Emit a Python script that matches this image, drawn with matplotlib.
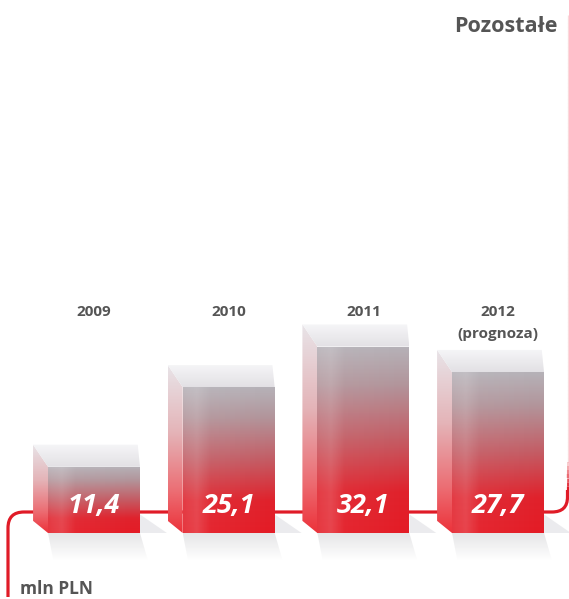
import numpy as np
import matplotlib
matplotlib.use("Agg")
import matplotlib.pyplot as plt
from matplotlib.patches import Polygon, PathPatch
from matplotlib.path import Path
from matplotlib.collections import LineCollection

# ---- data ----
years = ["2009", "2010", "2011", "2012\n(prognoza)"]
values = [11.4, 25.1, 32.1, 27.7]
value_labels = ["11,4", "25,1", "32,1", "27,7"]
title = "Pozostałe"
unit = "mln PLN"

# ---- layout ----
W, H = 569, 599
fig = plt.figure(figsize=(W / 100, H / 100), dpi=100)
ax = fig.add_axes([0, 0, 1, 1])
XLIM = (-0.698, 3.527)
YLIM = (-11.36, 91.74)
plt.rcParams['font.family'] = ['Open Sans', 'DejaVu Sans']

RED = (0.878, 0.106, 0.153)
TXT = "#555555"
bw = 0.683          # front face width (x units)
dx = 0.111          # side depth (x units)
dy = 3.8            # top depth (y units)


def px(x, y):
    return (x / W, 1 - y / H)


def grad_image(stops, n=256):
    t = np.linspace(0, 1, n)
    pos = [s[0] for s in stops]
    cols = np.array([s[1] for s in stops]) / 255.0
    img = np.zeros((n, 1, 3))
    for c in range(3):
        img[:, 0, c] = np.interp(t, pos, cols[:, c])
    return img[::-1]  # row 0 = top


def fill_grad(poly_xy, stops, z, hstops=None):
    poly = Polygon(poly_xy, closed=True, facecolor='none', edgecolor='none',
                   transform=ax.transData)
    ax.add_patch(poly)
    xs = [p[0] for p in poly_xy]
    ys = [p[1] for p in poly_xy]
    img = grad_image(stops)
    im = ax.imshow(img, extent=(min(xs), max(xs), min(ys), max(ys)),
                   aspect='auto', zorder=z, interpolation='bilinear')
    im.set_clip_path(poly)
    if hstops is not None:
        n = 128
        t = np.linspace(0, 1, n)
        a = np.interp(t, [s[0] for s in hstops], [s[1] for s in hstops])
        ov = np.ones((1, n, 4))
        ov[0, :, 3] = a
        im2 = ax.imshow(ov, extent=(min(xs), max(xs), min(ys), max(ys)),
                        aspect='auto', zorder=z + 0.01, interpolation='bilinear')
        im2.set_clip_path(poly)


# ---- red frame line ----
verts = [px(8, 597), px(8, 528), px(8, 512), px(24, 512), px(552, 512),
         px(567.5, 512), px(567.5, 497), px(567.5, 490)]
codes = [Path.MOVETO, Path.LINETO, Path.CURVE3, Path.CURVE3, Path.LINETO,
         Path.CURVE3, Path.CURVE3, Path.LINETO]
ax.add_patch(PathPatch(Path(verts, codes), facecolor='none', edgecolor=RED,
                       lw=2.3, transform=ax.transAxes, zorder=1,
                       capstyle='butt'))
ys_f = np.linspace(490, 15, 120)
segs = [[px(567.5, ys_f[i]), px(567.5, ys_f[i + 1])] for i in range(len(ys_f) - 1)]
tt = np.linspace(0, 1, len(segs))
alphas = 0.16 + 0.84 * np.clip(1 - tt / 0.06, 0, 1)
widths = 0.9 + 1.4 * np.clip(1 - tt / 0.06, 0, 1)
lc = LineCollection(segs, colors=[(*RED, a) for a in alphas], linewidths=widths,
                    transform=ax.transAxes, zorder=1)
ax.add_collection(lc)

# ---- bars ----
front_stops = [(0.0, (228, 28, 38)), (0.22, (224, 34, 44)), (0.5, (196, 92, 100)),
               (0.8, (178, 150, 156)), (1.0, (182, 178, 184))]
side_stops = [(0.0, (236, 50, 58)), (0.25, (236, 110, 116)), (0.6, (228, 180, 184)),
              (1.0, (232, 228, 232))]
top_stops = [(0.0, (226, 224, 228)), (1.0, (246, 246, 248))]

for i, (v, lab) in enumerate(zip(values, value_labels)):
    x0 = i - bw / 2
    x1 = i + bw / 2
    # shadow
    sh = Polygon([(x0, 0), (x1, 0), (x1 + 0.06, -4.8), (x0 + 0.04, -4.8)], closed=True,
                 facecolor='none', edgecolor='none')
    ax.add_patch(sh)
    shimg = np.ones((64, 1, 4)) * np.array([0.55, 0.55, 0.58, 1.0])
    shimg[:, 0, 3] = np.linspace(0.22, 0.0, 64)
    im = ax.imshow(shimg, extent=(x0, x1 + 0.06, -4.8, 0), aspect='auto', zorder=0.5,
                   interpolation='bilinear')
    im.set_clip_path(sh)
    sh2 = Polygon([(x1, 0), (x1, 3.2), (x1 + 0.2, 0)], closed=True,
                  facecolor=(0.85, 0.85, 0.87), edgecolor='none', alpha=0.5, zorder=0.5)
    ax.add_patch(sh2)
    # front face
    fill_grad([(x0, 0), (x1, 0), (x1, v), (x0, v)], front_stops, 3,
              hstops=[(0.0, 0.12), (0.15, 0.18), (0.3, 0.05), (1.0, 0.0)])
    # left side face
    fill_grad([(x0 - dx, dy * 0.55), (x0, 0), (x0, v), (x0 - dx, v + dy)], side_stops, 3)
    # top face
    fill_grad([(x0, v), (x1, v), (x1 - dx * 0.15, v + dy), (x0 - dx, v + dy)], top_stops, 3)
    # value label
    ax.text(i, 4.6, lab, ha='center', va='center', color='white', fontsize=19.5,
            fontweight='bold', fontstyle='italic', zorder=5)

# ---- year labels ----
for i, yl in enumerate(years):
    parts = yl.split("\n")
    for k, p in enumerate(parts):
        ax.text(i, (533 - 311.5 - 22.5 * k) / 5.81, p, ha='center', va='center',
                color=TXT, fontsize=11, fontweight='bold', zorder=5)

ax.text(*px(557, 27), title, transform=ax.transAxes, ha='right', va='center',
        color=TXT, fontsize=15.5, fontweight='bold')
ax.text(*px(20, 589), unit, transform=ax.transAxes, ha='left', va='center',
        color=TXT, fontsize=12.5, fontweight='bold')

ax.set_xlim(*XLIM)
ax.set_ylim(*YLIM)
ax.axis('off')
fig.savefig("out.png", dpi=100, facecolor='white')
